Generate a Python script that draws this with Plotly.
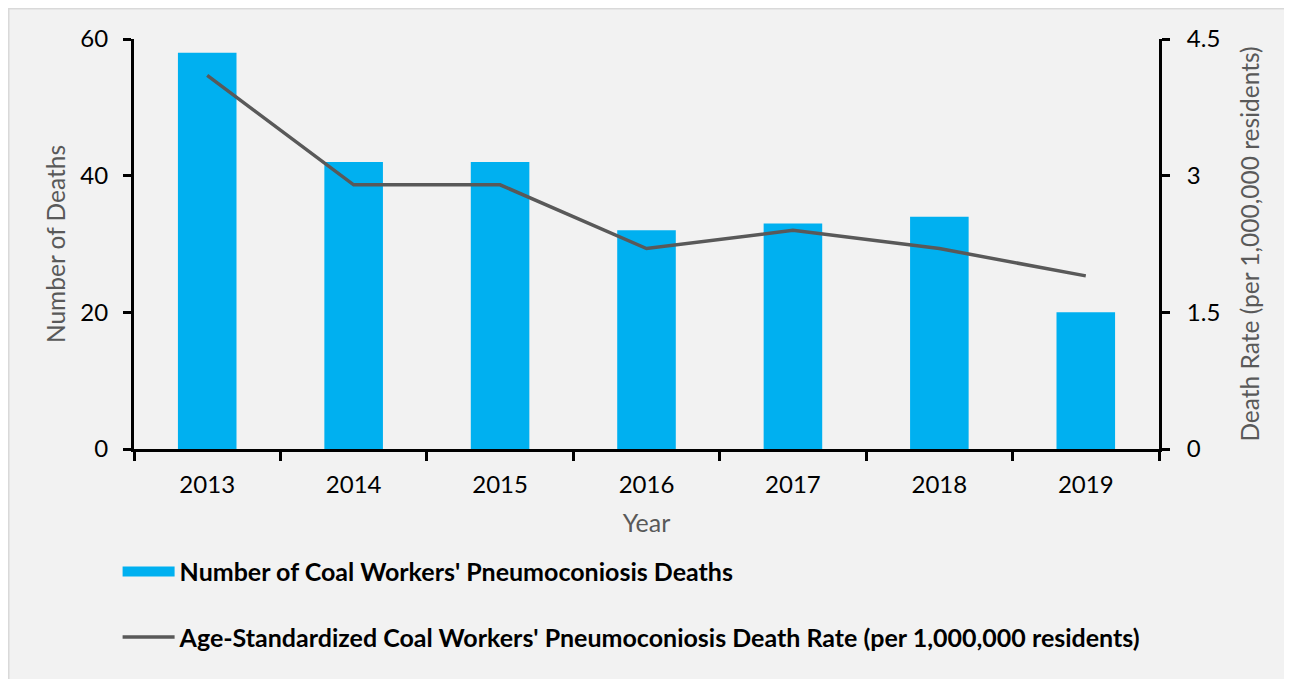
import plotly.graph_objects as go

years = ["2013", "2014", "2015", "2016", "2017", "2018", "2019"]
deaths = [58, 42, 42, 32, 33, 34, 20]
death_rate = [4.1, 2.9, 2.9, 2.2, 2.4, 2.2, 1.9]

bar_name = "Number of Coal Workers' Pneumoconiosis Deaths"
line_name = "Age-Standardized Coal Workers' Pneumoconiosis Death Rate (per 1,000,000 residents)"

fnt = "Lato, 'Open Sans', sans-serif"
blue = "#00b0f0"
grey = "#595959"

fig = go.Figure()
fig.add_trace(go.Bar(x=years, y=deaths, name=bar_name, marker=dict(color=blue, line_width=0),
                     width=0.4, showlegend=False, yaxis="y"))
fig.add_trace(go.Scatter(x=years, y=death_rate, name=line_name, mode="lines",
                         line=dict(color=grey, width=3.5), legendgroup="b", yaxis="y2", legendrank=2))
# legend key for the bars (wide block like the original)
fig.add_trace(go.Scatter(x=[None], y=[None], name=bar_name, mode="lines",
                         line=dict(color=blue, width=15), legendgroup="a", legendrank=1))

# thin border on the top and left edge of the panel
fig.add_shape(type="line", xref="paper", yref="paper", x0=-0.1229, x1=1.2, y0=1.0756, y1=1.0756,
              line=dict(color="#d9d9d9", width=3), layer="below")
fig.add_shape(type="line", xref="paper", yref="paper", x0=-0.1229, x1=-0.1229, y0=-0.7, y1=1.0756,
              line=dict(color="#d9d9d9", width=3), layer="below")

tick_common = dict(showline=True, linecolor="black", linewidth=3, tickwidth=3, tickcolor="black",
                   showgrid=False, zeroline=False, tickfont=dict(size=24))

fig.update_layout(
    width=1284, height=671,
    margin=dict(l=126, r=133, t=31, b=230),
    paper_bgcolor="#f2f2f2", plot_bgcolor="rgba(0,0,0,0)",
    font=dict(family=fnt, color="black", size=24),
    showlegend=True,
    bargap=0.6,
    legend=dict(x=-0.016, y=-0.243, xanchor="left", yanchor="top", bgcolor="rgba(0,0,0,0)",
                font=dict(size=25, family=fnt, color="black", weight="bold"), tracegroupgap=30,
                itemwidth=52),
    xaxis=dict(ticks="outside", tickson="boundaries", ticklen=9, ticklabelstandoff=12,
               title=dict(text="Year", font=dict(size=25, color=grey), standoff=18),
               **tick_common),
    yaxis=dict(range=[0, 60], dtick=20, ticks="outside", ticklen=8, ticklabelstandoff=10,
               title=dict(text="Number of Deaths", font=dict(size=24.5, color=grey), standoff=8),
               **tick_common),
    yaxis3=dict(range=[0, 60], dtick=20, overlaying="y", side="left", ticks="inside", ticklen=9,
                tickwidth=3, tickcolor="black", showticklabels=False, showgrid=False, zeroline=False,
                showline=False),
    yaxis2=dict(range=[0, 4.5], tickvals=[0, 1.5, 3, 4.5], ticktext=["0", "1.5", "3", "4.5"],
                overlaying="y", side="right", ticks="outside", ticklen=8, ticklabelstandoff=12,
                title=dict(text="Death Rate (per 1,000,000 residents)", font=dict(size=24.5, color=grey),
                           standoff=23),
                **tick_common),
)

fig.write_html("out.html")
